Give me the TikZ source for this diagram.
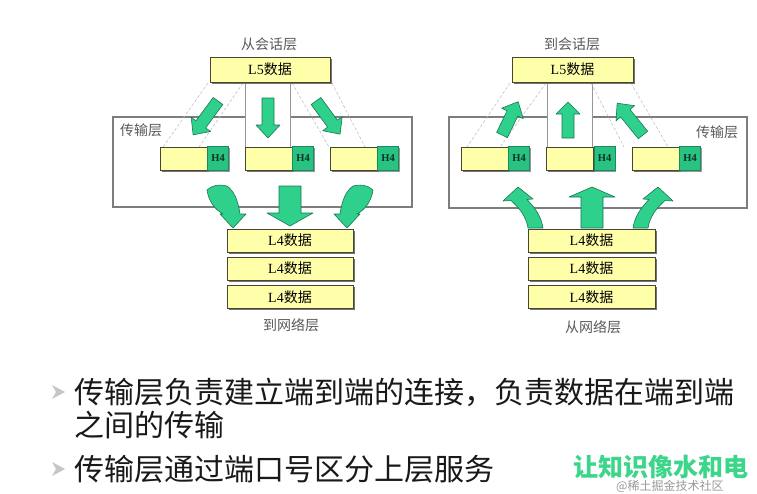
\documentclass[tikz,border=0pt]{standalone}
\usepackage{fontspec}
\setmainfont{Liberation Serif}
\newfontfamily\cjk{Noto Sans CJK SC}
\usetikzlibrary{positioning,shadows}

\definecolor{boxyellow}{RGB}{255,255,170}
\definecolor{boxedge}{RGB}{70,70,50}
\definecolor{arrowgreen}{RGB}{46,208,140}
\definecolor{arrowedge}{RGB}{25,120,80}
\definecolor{hgreen}{RGB}{40,195,130}
\definecolor{framegray}{RGB}{125,125,125}
\definecolor{markgreen}{RGB}{60,214,138}

\tikzset{
  databox/.style={draw=boxedge, fill=boxyellow, line width=0.8pt, inner sep=0pt,
    font=\fontsize{14}{16}\selectfont,
    drop shadow={shadow xshift=1.5pt, shadow yshift=-1.5pt, opacity=1, fill=black!55}},
  payload/.style={databox, minimum width=47pt, minimum height=23pt},
  hdrbox/.style={draw=hgreen!70!black, fill=hgreen, line width=0.5pt, inner sep=0pt,
    minimum width=21pt, minimum height=24pt, text=black!75!hgreen,
    font=\bfseries\fontsize{10.5}{11}\selectfont,
    drop shadow={shadow xshift=1.2pt, shadow yshift=-1.2pt, opacity=1, fill=black!40}},
  layerbox/.style={draw=framegray, line width=1.2pt, fill=white, inner sep=0pt,
    drop shadow={shadow xshift=1pt, shadow yshift=-1pt, opacity=1, fill=black!35}},
  layertext/.style={text=black!65, font=\cjk\fontsize{14}{16}\selectfont},
  colline/.style={draw=framegray!80, line width=0.9pt},
  bandline/.style={draw=gray!55, densely dashed, line width=0.5pt},
  arrowbody/.style={fill=arrowgreen, draw=arrowedge, line width=0.6pt, line join=round},
  bullettext/.style={text=black!90, font=\cjk\fontsize{30}{32}\selectfont, inner sep=0pt},
  pics/bararrow/.style args={#1/#2/#3/#4}{code={%
    \filldraw[arrowbody] (0,{-#2}) -- ({#1-#4},{-#2}) -- ({#1-#4},{-#3}) -- (#1,0)
      -- ({#1-#4},#3) -- ({#1-#4},#2) -- (0,#2) -- cycle;}},
  pics/bendarrow/.style={code={%
    \filldraw[arrowbody] (-26,-38) .. controls (-24,-25) and (-17,-18) .. (-10,-14)
      -- (-13,-14) -- (0,0) -- (13,-14) -- (7,-14)
      .. controls (5,-28) and (1,-37) .. (-6,-42)
      .. controls (-13,-44) and (-21,-43) .. (-26,-38) -- cycle;}},
  pics/liftarrow/.style={code={%
    \filldraw[arrowbody] (10,41) .. controls (8,28) and (0,20) .. (-7,13.5)
      -- (-15,14) -- (0,0) -- (15,12) -- (9,12.5)
      .. controls (16,20) and (23,28) .. (25,41) -- cycle;}},
}

\begin{document}
\begin{tikzpicture}[x=1pt,y=-1pt]

\fill[white] (0,0) rectangle (757,493);
\useasboundingbox (0,0) rectangle (757,493);

% ---------- sending side (left) ----------
\node[layerbox, minimum width=299pt, minimum height=90pt] (tportA) at (262.5,162) {};
\node[layertext] (tportAlbl) at (141,130) {传输层};

% pipe from L5 down to the middle segment
\fill[white] (245,81) rectangle (290,148);
\draw[colline] (245,82) -- (245,147) (290,82) -- (290,147);

% projection bands
\draw[bandline] (208,83) -- (163,147) (243,83) -- (199,147);
\draw[bandline] (292,83) -- (329,147) (332,83) -- (365,147);

\pic[rotate=-126.3] at (218,101) {bararrow=42/6/12/13};
\pic[rotate=-90] at (268,98) {bararrow=40/6/12/13};
\pic[rotate=-54] at (316,101) {bararrow=41/6/12/13};

\node[layertext] (fromsess) at (269,44) {从会话层};
\node[databox, minimum width=120pt, minimum height=25pt] (l5a) at (270,69.5) {L5\cjk 数据};

% segments with header
\node[payload] (segA1) at (183.5,158.5) {};
\node[hdrbox, right=0pt of segA1] (hdrA1) {H4};
\node[payload] (segA2) at (268.5,158.5) {};
\node[hdrbox, right=0pt of segA2] (hdrA2) {H4};
\node[payload] (segA3) at (353.5,158.5) {};
\node[hdrbox, right=0pt of segA3] (hdrA3) {H4};

\node[databox, minimum width=126pt, minimum height=23pt] (l4a1) at (290,240.5) {L4\cjk 数据};
\node[databox, minimum width=126pt, minimum height=23pt] (l4a2) at (290,268.5) {L4\cjk 数据};
\node[databox, minimum width=126pt, minimum height=23pt] (l4a3) at (290,297) {L4\cjk 数据};
\node[layertext] (tonet) at (291,325) {到网络层};

\pic at (233,228) {bendarrow};
\pic[rotate=-90] at (290,186) {bararrow=40/11/23/13};
\pic[xscale=-1] at (347,228) {bendarrow};

% ---------- receiving side (right) ----------
\node[layerbox, minimum width=298pt, minimum height=91pt] (tportB) at (598,162.5) {};
\node[layertext] (tportBlbl) at (717,132) {传输层};

\fill[white] (547,81) rectangle (592,148);
\draw[colline] (547,82) -- (547,147) (592,82) -- (592,147);

\draw[bandline] (510,83) -- (467,147) (546,83) -- (500,147);
\draw[bandline] (591,83) -- (624,147) (631,83) -- (668,147);

\pic[rotate=64.1] at (502,135) {bararrow=37/6/12/13};
\pic[rotate=90] at (568,138) {bararrow=36/6/12/12};
\pic[rotate=129.1] at (643,135) {bararrow=41/6/12/13};

\node[layertext] (tosess) at (572,44) {到会话层};
\node[databox, minimum width=121pt, minimum height=25pt] (l5b) at (572.5,69.5) {L5\cjk 数据};

\node[payload] (segB1) at (484.5,158.5) {};
\node[hdrbox, right=0pt of segB1] (hdrB1) {H4};
\node[payload] (segB2) at (570,158.5) {};
\node[hdrbox, right=0pt of segB2] (hdrB2) {H4};
\node[payload] (segB3) at (655.5,158.5) {};
\node[hdrbox, right=0pt of segB3] (hdrB3) {H4};

\node[databox, minimum width=127pt, minimum height=23pt] (l4b1) at (591.5,240.5) {L4\cjk 数据};
\node[databox, minimum width=127pt, minimum height=23pt] (l4b2) at (591.5,268.5) {L4\cjk 数据};
\node[databox, minimum width=127pt, minimum height=23pt] (l4b3) at (591.5,297) {L4\cjk 数据};
\node[layertext] (fromnet) at (593,327) {从网络层};

\pic at (518,187) {liftarrow};
\pic[rotate=90] at (592,228) {bararrow=41/11/23/10};
\pic[xscale=-1] at (658,187) {liftarrow};

% ---------- bullet points ----------
\fill[gray!45] (52,385) -- (65,392) -- (52,399) -- (56,392) -- cycle;
\fill[gray!45] (52,462) -- (65,469) -- (52,476) -- (56,469) -- cycle;
\node[bullettext, anchor=west] (pt1) at (74,392) {传输层负责建立端到端的连接，负责数据在端到端};
\node[bullettext, anchor=west] (pt1b) at (74,425) {之间的传输};
\node[bullettext, anchor=west] (pt2) at (74,469) {传输层通过端口号区分上层服务};

\node[anchor=west, inner sep=0pt, text=markgreen, font=\cjk\bfseries\fontsize{25}{27}\selectfont] (motto) at (573,467) {让知识像水和电};
\node[anchor=west, inner sep=0pt, text=gray, opacity=0.8, font=\cjk\fontsize{12}{13}\selectfont] (wmark) at (616,486) {@稀土掘金技术社区};

\end{tikzpicture}
\end{document}
